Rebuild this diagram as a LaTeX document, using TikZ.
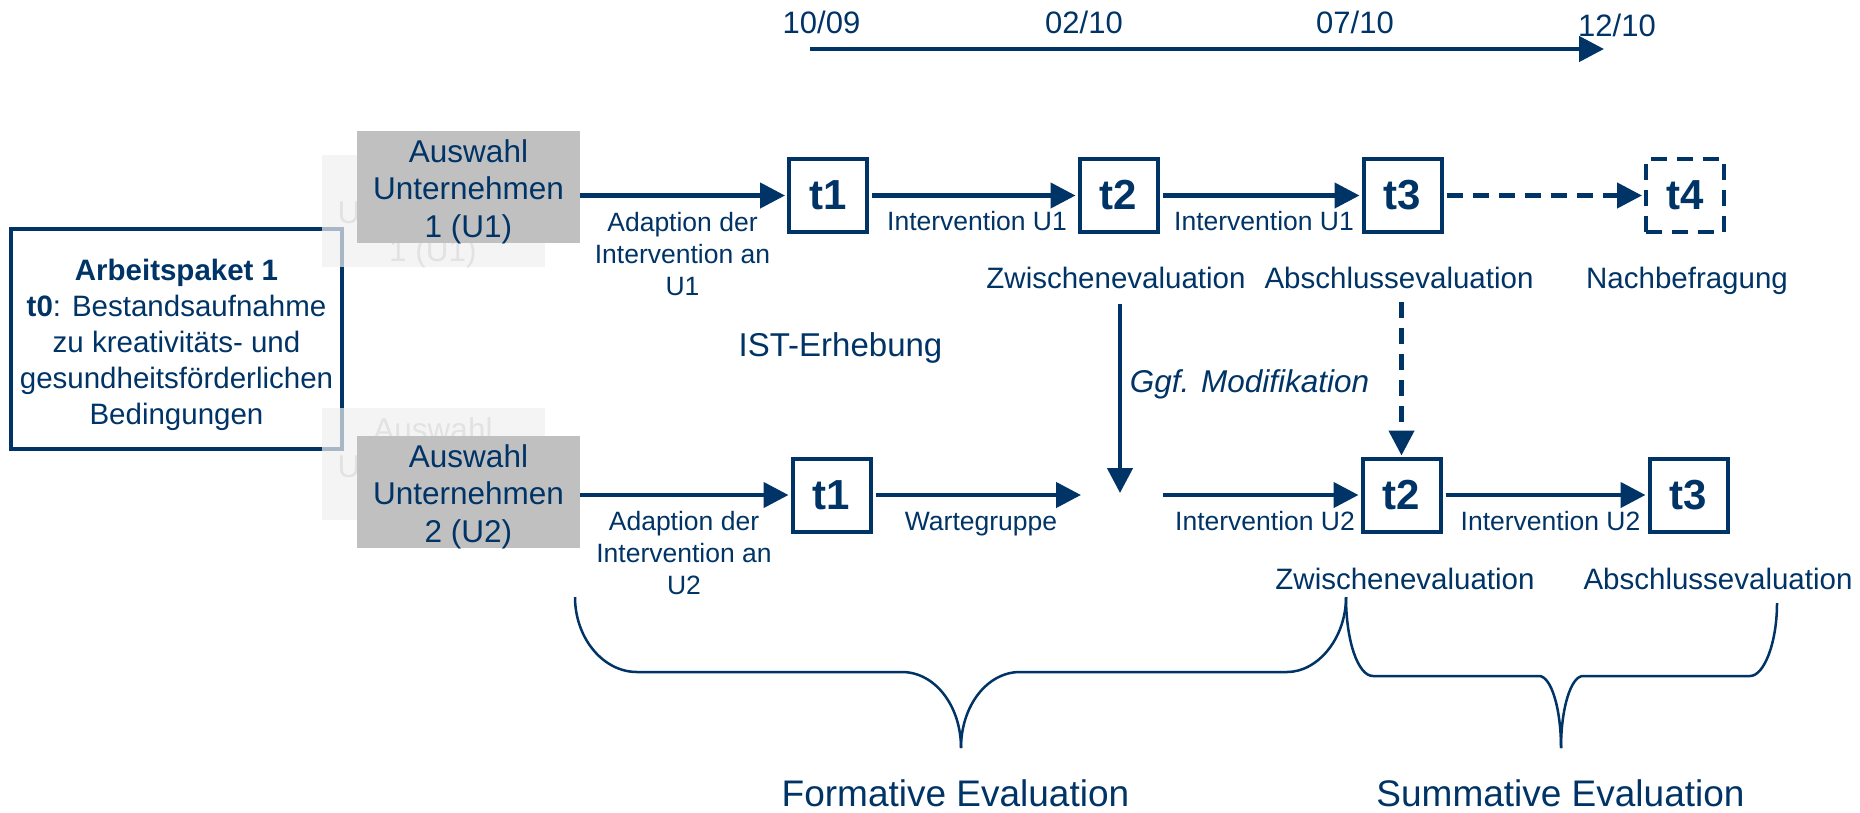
\documentclass[tikz,border=0pt]{standalone}
\usepackage{fontspec}
\setmainfont{Liberation Sans}
\usetikzlibrary{arrows.meta}
\definecolor{dblue}{RGB}{0,51,102}
\definecolor{ugray}{RGB}{192,192,192}
\definecolor{ghfill}{RGB}{240,240,240}
\definecolor{ghtext}{RGB}{226,226,226}
\begin{document}
\begin{tikzpicture}[x=1pt,y=-1pt,
  arr/.style={draw=dblue, line width=4.5pt, -{Triangle[length=25pt,width=25pt]}},
  tbox/.style={draw=dblue, line width=4pt, minimum width=78pt, minimum height=73pt, inner sep=0pt, text=dblue, font=\bfseries\fontsize{42}{42}\selectfont},
  ubox/.style={fill=ugray, minimum width=223pt, minimum height=112pt, inner sep=0pt},
  ghost/.style={ubox, fill=ghfill, fill opacity=0.7},
  lbl/.style={inner sep=0pt, anchor=base, align=center, text=dblue, font=\fontsize{26.5}{32}\selectfont},
  utext/.style={lbl, font=\fontsize{31.5}{37.5}\selectfont},
  gtext/.style={utext, text=ghtext},
  evl/.style={lbl, font=\fontsize{29.5}{34}\selectfont},
  brc/.style={draw=dblue, line width=2.5pt},
  dsh/.style={dash pattern=on 16pt off 10pt}
]
\useasboundingbox (0,0) rectangle (1860,812);

% timeline
\coordinate (tl0) at (810,49);
\coordinate (tl1) at (1604,49);
\draw[arr] (tl0) -- (tl1);
\node[lbl, font=\fontsize{31}{36}\selectfont] (d1) at (821.5,33) {10/09};
\node[lbl, font=\fontsize{31}{36}\selectfont] (d2) at (1084,33) {02/10};
\node[lbl, font=\fontsize{31}{36}\selectfont] (d3) at (1355,33) {07/10};
\node[lbl, font=\fontsize{31}{36}\selectfont] (d4) at (1617,36) {12/10};

% left box
\node[draw=dblue, line width=4pt, minimum width=331pt, minimum height=220pt, inner sep=0pt] (ap) at (176.5,339) {};
\node[lbl, font=\fontsize{29.5}{36}\selectfont] (apt) at (176.5,424)
  {\textbf{Arbeitspaket 1}\\\textbf{t0}: Bestandsaufnahme\\zu kreativitäts- und\\gesundheitsförderlichen\\Bedingungen};

% ghost copies
\node[ghost] (g1) at (433,211) {};
\node[gtext] (g1t) at (433,261) {Auswahl\\Unternehmen\\1 (U1)};
\node[ghost] (g2) at (433,463.5) {};
\node[gtext] (g2t) at (433,515) {Auswahl\\Unternehmen\\2 (U2)};

% company boxes
\node[ubox] (u1) at (468.5,187) {};
\node[utext] (u1t) at (468.5,237) {Auswahl\\Unternehmen\\1 (U1)};
\node[ubox] (u2) at (468.5,491.5) {};
\node[utext] (u2t) at (468.5,542) {Auswahl\\Unternehmen\\2 (U2)};

% row 1
\node[tbox] (a1) at (828,195.5) {t1};
\node[tbox] (a2) at (1118.5,195.5) {t2};
\node[tbox] (a3) at (1402.5,195.5) {t3};
\node[tbox, dsh] (a4) at (1685,195.5) {t4};

\draw[arr, shorten >=2pt] (u1.east |- a1) -- (a1);
\draw[arr, shorten <=3pt, shorten >=2pt] (a1) -- (a2);
\draw[arr, shorten <=3pt, shorten >=2pt] (a2) -- (a3);
\draw[arr, dsh, shorten <=3pt, shorten >=2pt] (a3) -- (a4);

\node[lbl] (ad1) at (682.5,295) {Adaption der\\Intervention an\\U1};
\node[lbl] (iu1) at (977,230) {Intervention U1};
\node[lbl] (iu2) at (1264,230) {Intervention U1};

\node[evl] (z1) at (1116,288) {Zwischenevaluation};
\node[evl] (ab1) at (1399,288) {Abschlussevaluation};
\node[evl] (nb) at (1687,288) {Nachbefragung};

\node[lbl, font=\fontsize{33}{38}\selectfont] (ist) at (840.5,356) {IST-Erhebung};
\node[lbl, font=\itshape\fontsize{31.5}{36}\selectfont] (mod) at (1249.5,392) {Ggf. Modifikation};

% row 2
\node[tbox] (b1) at (831.5,495) {t1};
\node[tbox] (b2) at (1401.5,495) {t2};
\node[tbox] (b3) at (1688.5,495) {t3};
\coordinate (gin) at (1081,495);
\coordinate (gmid) at (1120,493);
\coordinate (gout) at (1163,495);

\draw[arr, shorten >=2pt] (u2.east |- b1) -- (b1);
\draw[arr, shorten <=3pt] (b1) -- (gin);
\draw[arr, shorten >=2pt] (gout) -- (b2);
\draw[arr, shorten <=3pt, shorten >=2pt] (b2) -- (b3);

\draw[arr, shorten <=16pt] (z1.south -| gmid) -- (gmid);
\draw[arr, dsh, shorten <=14pt, shorten >=1pt] (ab1.south -| b2) -- (b2);

\node[lbl] (ad2) at (684,594.5) {Adaption der\\Intervention an\\U2};
\node[lbl] (wg) at (981,530.5) {Wartegruppe};
\node[lbl] (iv1) at (1265,530.5) {Intervention U2};
\node[lbl] (iv2) at (1550.5,530.5) {Intervention U2};

\node[evl] (z2) at (1405,589) {Zwischenevaluation};
\node[evl] (ab2) at (1718,589) {Abschlussevaluation};

% braces
\draw[brc] (575,597) .. controls (575,638) and (603,672) .. (637,672) -- (902,672) .. controls (935,672) and (961,706) .. (961,748);
\draw[brc] (1346,597) .. controls (1346,638) and (1318,672) .. (1287,672) -- (1020,672) .. controls (987,672) and (961,706) .. (961,748);
\draw[brc] (1346,597) .. controls (1346,641) and (1358,676) .. (1373,676) -- (1539,676) .. controls (1551,676) and (1561,708) .. (1561,748);
\draw[brc] (1777,603) .. controls (1777,643) and (1764,676) .. (1750,676) -- (1583,676) .. controls (1571,676) and (1561,708) .. (1561,748);

\node[lbl, font=\fontsize{37}{42}\selectfont] (fe) at (955.5,806.5) {Formative Evaluation};
\node[lbl, font=\fontsize{37}{42}\selectfont] (se) at (1560.5,806.5) {Summative Evaluation};
\end{tikzpicture}
\end{document}
